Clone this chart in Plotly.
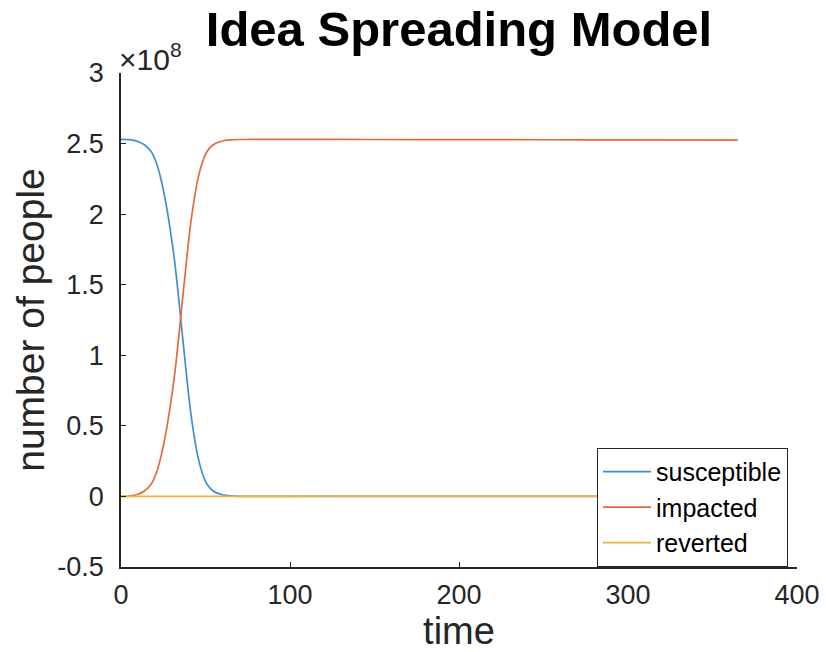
import plotly.graph_objects as go

# time in days
time = [0, 5, 10, 14, 18, 21, 24, 27, 30, 32, 34, 36, 38, 40, 42, 45, 48, 51, 55,
        60, 65, 70, 80, 100, 150, 200, 250, 300, 365]
# values in units of 1e8 people
susceptible = [2.530, 2.528, 2.515, 2.490, 2.440, 2.360, 2.230, 2.050, 1.820, 1.640,
               1.420, 1.180, 0.950, 0.720, 0.530, 0.310, 0.170, 0.085, 0.035,
               0.012, 0.004, 0.001, 0.0, 0.0, 0.0, 0.0, 0.0, 0.0, 0.0]
impacted = [0.000, 0.002, 0.015, 0.040, 0.090, 0.170, 0.300, 0.480, 0.710, 0.890,
            1.110, 1.350, 1.580, 1.810, 2.000, 2.220, 2.360, 2.445, 2.495,
            2.518, 2.526, 2.529, 2.530, 2.530, 2.529, 2.528, 2.527, 2.526, 2.524]
reverted = [0.0, 0.0, 0.0, 0.0, 0.0, 0.0, 0.0, 0.0, 0.0, 0.0,
            0.0, 0.0, 0.0, 0.001, 0.001, 0.001, 0.001, 0.001, 0.001,
            0.001, 0.001, 0.001, 0.001, 0.001, 0.002, 0.002, 0.002, 0.003, 0.003]

series_names = ["susceptible", "impacted", "reverted"]
series_colors = ["#3E8FD6", "#E4693F", "#EDB53A"]

x_ticks = [0, 100, 200, 300, 400]
y_ticks = [-0.5, 0, 0.5, 1, 1.5, 2, 2.5, 3]
y_tick_text = ["-0.5", "0", "0.5", "1", "1.5", "2", "2.5", "3"]

FONT = "Liberation Sans, Arial, Helvetica, sans-serif"
AX = "#262626"

W, H = 826, 652

fig = go.Figure()
for name, vals, col in zip(series_names, [susceptible, impacted, reverted], series_colors):
    fig.add_trace(go.Scatter(x=time, y=vals, mode="lines", name=name,
                             line=dict(color=col, width=1.7, shape="spline", smoothing=0.6)))

fig.update_layout(
    width=W, height=H,
    margin=dict(l=121, r=29, t=73, b=85),
    paper_bgcolor="white", plot_bgcolor="white",
    font=dict(family=FONT, color=AX),
    title=dict(text="<b>Idea Spreading Model</b>", x=0.5, xref="paper",
               y=1 - 29 / H, yref="container", yanchor="middle", xanchor="center",
               automargin=False,
               font=dict(size=49, color="black", family=FONT)),
    showlegend=True,
    legend=dict(x=0.9867, y=0.241, xanchor="right", yanchor="top",
                bgcolor="white", bordercolor=AX, borderwidth=1,
                font=dict(size=25, color="black", family=FONT),
                itemwidth=48),
    xaxis=dict(range=[0, 400], tickvals=x_ticks, ticks="inside", ticklen=5,
               tickcolor=AX, showline=True, linecolor=AX, linewidth=1.5,
               showgrid=False, zeroline=False, tickfont=dict(size=27, color=AX),
               ticklabelstandoff=3, automargin=False,
               title=dict(text="time", font=dict(size=38, color=AX), standoff=4)),
    yaxis=dict(range=[-0.5, 3], tickvals=y_ticks, ticktext=y_tick_text,
               ticks="inside", ticklen=5, tickcolor=AX, showline=True,
               linecolor=AX, linewidth=1.5, showgrid=False, zeroline=False,
               tickfont=dict(size=27, color=AX), ticklabelstandoff=10,
               automargin=False,
               title=dict(text="number of people", font=dict(size=39, color=AX),
                          standoff=1)),
)

fig.add_annotation(text="×10<sup>8</sup>", xref="paper", yref="paper", x=0, y=1,
                   xanchor="left", yanchor="bottom", showarrow=False,
                   font=dict(size=30, color=AX, family=FONT), xshift=-4, yshift=-5)

fig.write_html("out.html", config={"displayModeBar": False},
               post_script="document.body.style.margin='0px';")
